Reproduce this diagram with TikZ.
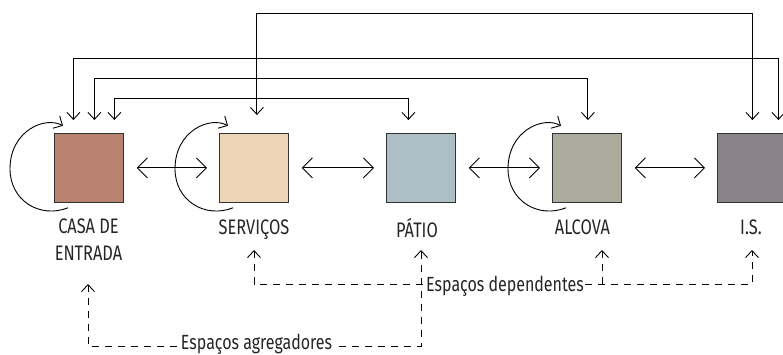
\documentclass[tikz,border=0pt]{standalone}
\usepackage{fontspec}
\setmainfont{Fira Sans}[FakeStretch=0.78]
\usetikzlibrary{arrows.meta,calc}
\definecolor{cA}{HTML}{B98270}
\definecolor{cB}{HTML}{EDD5B8}
\definecolor{cC}{HTML}{ADBFC5}
\definecolor{cD}{HTML}{ABAB9E}
\definecolor{cE}{HTML}{8A8387}
\begin{document}
\begin{tikzpicture}[x=1pt,y=-1pt,line width=0.9pt,
  box/.style={draw=black!80,line width=0.8pt,minimum size=69pt,inner sep=0pt,anchor=north west},
  lab/.style={anchor=base,align=center,font=\fontsize{21}{26.5}\selectfont,inner sep=0pt,text=black!85},
  dlab/.style={anchor=base,font=\fontsize{20.5}{22}\selectfont,fill=white,inner xsep=1.5pt,inner ysep=1pt,text=black!85},
  dbl/.style={{Straight Barb[length=10pt,width=20pt]}-{Straight Barb[length=10pt,width=20pt]},shorten <=13pt,shorten >=12pt},
  topc/.style={{Straight Barb[length=7pt,width=13pt]}-{Straight Barb[length=7pt,width=13pt]}},
  selfloop/.style={-{Straight Barb[length=7pt,width=14pt]}},
  dsh/.style={dash pattern=on 7pt off 6pt}
]
\useasboundingbox (0,0) rectangle (783,354);
% boxes
\node[box,fill=cA] (b1) at (54,133) {};
\node[box,fill=cB] (b2) at (219,133) {};
\node[box,fill=cC] (b3) at (386,133) {};
\node[box,fill=cD] (b4) at (552,133) {};
\node[box,fill=cE] (b5) at (717,133) {};
% neighbour arrows
\draw[dbl] (b1) -- (b2);
\draw[dbl] (b2) -- (b3);
\draw[dbl] (b3) -- (b4);
\draw[dbl] (b4) -- (b5);
% top connectors
\draw[topc] ($(b2.north)+(3,-18)$) |- ($(b5.north)+(0.5,-120)$) -- ($(b5.north)+(0.5,-13)$);
\draw[topc] ($(b1.north)+(-15.5,-13)$) |- ($(b5.north)+(26.5,-75)$) -- ($(b5.north)+(26.5,-13)$);
\draw[topc] ($(b1.north)+(5.5,-13)$) |- ($(b4.north)+(1,-55)$) -- ($(b4.north)+(1,-13)$);
\draw[topc] ($(b1.north)+(25.5,-13)$) |- ($(b3.north)+(-12.5,-35)$) -- ($(b3.north)+(-12.5,-13)$);
% self loops
\foreach \b in {b1,b2,b4}{
  \draw[selfloop,shift={(\b.south west)}] (14,5) .. controls (-14,16) and (-44,-2) .. (-44,-34)
     .. controls (-44,-72) and (-9,-87) .. (9,-77);
}
% labels
\node[lab] (l1) at (88.5,260) {CASA DE\\ENTRADA};
\node[lab] (l2) at (254,234) {SERVIÇOS};
\node[lab] (l3) at (417,237) {PÁTIO};
\node[lab] (l4) at (582.5,234) {ALCOVA};
\node[lab] (l5) at (751,234) {I.S.};
% dashed connectors
\coordinate (d1) at (88,284);
\coordinate (d2) at (254,250);
\coordinate (d3) at (421,250);
\coordinate (d4) at (602,250);
\coordinate (d5) at (752,250);
\draw[dsh,topc] (d2) |- (d5 |- 0,284) -- (d5);
\draw[dsh,-{Straight Barb[length=7pt,width=13pt]}] (d4 |- 0,284) -- (d4);
\node[dlab] (e1) at (505,291) {Espaços dependentes};
\draw[dsh,topc] (d1) |- (d3 |- 0,346) -- (d3);
\node[dlab] (e2) at (256.5,349) {Espaços agregadores};
\end{tikzpicture}
\end{document}
